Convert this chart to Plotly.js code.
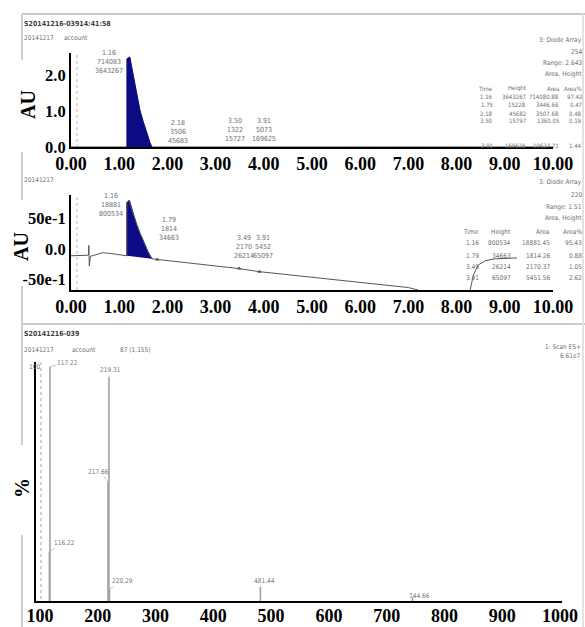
<!DOCTYPE html>
<html>
<head>
<meta charset="utf-8">
<script src="https://cdn.plot.ly/plotly-3.0.1.min.js"></script>
<style>
  html, body { margin: 0; padding: 0; background: #fff; }
  #chart { width: 585px; height: 627px; }
</style>
</head>
<body>
<div id="chart"></div>
<script>
// ---------- Chromatogram 1: 3: Diode Array, 254 nm ----------
const uv254PeakTime = [1.16, 1.16, 1.22, 1.30, 1.36, 1.43, 1.50, 1.58, 1.64, 1.68];
const uv254PeakAU   = [0.00, 2.45, 2.50, 1.90, 1.45, 1.03, 0.70, 0.35, 0.12, 0.00];
const uv254BaseTime = [0.00, 10.00];
const uv254BaseAU   = [0.00, 0.00];
const uv254Labels   = [["1.16", "714083", "3643267"], ["2.18", "3506", "45683"],
                       ["3.50", "1322", "15727"], ["3.91", "5073", "169625"]];
const uv254LabelTime = [1.16, 2.18, 3.50, 3.91];
const uv254Table = [["Time", "Height", "Area", "Area%"],
                    ["1.16", "3643267", "714080.88", "97.42"],
                    ["1.75", "15228", "3446.66", "0.47"],
                    ["2.18", "45682", "3507.68", "0.48"],
                    ["3.50", "15797", "1360.05", "0.19"],
                    ["3.91", "169625", "10627.71", "1.44"]];

// ---------- Chromatogram 2: 3: Diode Array, 220 nm ----------
const uv220PreTime  = [0.00, 0.30, 0.36, 0.37, 0.38, 0.40, 0.50, 0.65, 0.80, 1.00];
const uv220PreVal   = [-1.1, -1.1, -1.0, 0.6, -2.8, -1.2, -1.0, -0.6, -0.7, -0.9];
const uv220PeakTime = [1.16, 1.16, 1.21, 1.28, 1.36, 1.43, 1.52, 1.60, 1.68];
const uv220PeakVal  = [-1.1, 7.6, 8.0, 6.0, 4.0, 2.6, 1.0, -0.5, -1.6];
const uv220PostTime = [1.79, 2.00, 2.50, 3.00, 3.49, 3.91, 4.50, 5.00, 5.50, 6.00, 6.50, 7.00, 7.20, 7.70,
                       8.28, 8.35, 8.45, 8.60, 8.80, 9.25];
const uv220PostVal  = [-1.7, -1.9, -2.25, -2.7, -3.2, -3.7, -4.2, -4.6, -5.1, -5.5, -5.9, -6.3, -6.7, null,
                       -6.7, -4.2, -2.6, -1.9, -1.6, -1.45];
const uv220MarkTime = [1.79, 3.49, 3.91];
const uv220MarkVal  = [-1.7, -3.2, -3.7];
const uv220Labels   = [["1.16", "18881", "800534"], ["1.79", "1814", "34663"],
                       ["3.49", "2170", "26214"], ["3.91", "5452", "65097"]];
const uv220LabelTime = [1.16, 1.79, 3.49, 3.91];
const uv220Table = [["Time", "Height", "Area", "Area%"],
                    ["1.16", "800534", "18881.45", "95.43"],
                    ["1.79", "34663", "1814.26", "0.88"],
                    ["3.49", "26214", "2170.37", "1.05"],
                    ["3.91", "65097", "5451.56", "2.62"]];

// ---------- Mass spectrum: 1: Scan ES+ ----------
const msMz  = [116.22, 117.22, 217.66, 219.31, 220.29, 481.44, 744.66];
const msPct = [21, 100, 51, 95.5, 5, 6, 1.7];

// ---------- axis tick labels ----------
const timeTicks = [0, 1, 2, 3, 4, 5, 6, 7, 8, 9, 10];
const timeTickText = ["0.00", "1.00", "2.00", "3.00", "4.00", "5.00", "6.00", "7.00", "8.00", "9.00", "10.00"];
const au254Ticks = [0, 1, 2];
const au254TickText = ["0.0", "1.0", "2.0"];
const au220Ticks = [-5, 0, 5];
const au220TickText = ["-50e-1", "0.0", "50e-1"];
const mzTicks = [100, 200, 300, 400, 500, 600, 700, 800, 900, 1000];
const mzTickText = mzTicks.map(String);

// ---------- helpers ----------
const W = 585, H = 627;
const px = v => v / W;
const py = v => 1 - v / H;
const SERIF = "Liberation Serif, Times New Roman, serif";
const SMALL = "Liberation Sans Narrow, DejaVu Sans Condensed, Arial Narrow, sans-serif";
const NAVY = "#0b0b85";
const smallFont = (size, color, weight) => ({ family: SMALL, size: size || 6.5, color: color || "#6e6e6e", weight: weight || "normal" });

// ---------- traces ----------
const msX = [], msY = [];
msMz.forEach((m, i) => { msX.push(m, m, null); msY.push(0, msPct[i], null); });

const traces = [
  { x: uv254BaseTime, y: uv254BaseAU, xaxis: "x", yaxis: "y", mode: "lines",
    line: { color: "#444", width: 1 }, hoverinfo: "skip" },
  { x: uv254PeakTime, y: uv254PeakAU, xaxis: "x", yaxis: "y", mode: "lines",
    fill: "toself", fillcolor: NAVY, line: { color: NAVY, width: 1 } },

  { x: uv220PeakTime, y: uv220PeakVal, xaxis: "x2", yaxis: "y2", mode: "lines",
    fill: "toself", fillcolor: NAVY, line: { color: NAVY, width: 1 } },
  { x: uv220PreTime.concat(uv220PeakTime, uv220PostTime),
    y: uv220PreVal.concat(uv220PeakVal, uv220PostVal),
    xaxis: "x2", yaxis: "y2", mode: "lines", line: { color: "#555", width: 1 } },
  { x: uv220MarkTime, y: uv220MarkVal, xaxis: "x2", yaxis: "y2", mode: "markers",
    marker: { symbol: "triangle-up", size: 4, color: "#555" } },

  { x: msX, y: msY, xaxis: "x3", yaxis: "y3", mode: "lines",
    line: { color: "#a2a2a2", width: 1.6 } }
];

// ---------- annotations ----------
const ann = [];
const note = (text, x, y, o) => ann.push(Object.assign({
  xref: "paper", yref: "paper", x: px(x), y: py(y), text: text, showarrow: false,
  xanchor: "left", yanchor: "middle", font: smallFont()
}, o || {}));

// header texts of the instrument windows
note("S20141216-03914:41:58", 22, 24, { font: smallFont(7, "#3c3c3c", "bold") });
note("20141217", 22, 38);
note("account", 62, 38);
note("20141217", 22, 180);
note("S20141216-039", 22, 334, { font: smallFont(7, "#3c3c3c", "bold") });
note("20141217", 22, 350);
note("account", 70, 350);
note("87 (1.155)", 118, 350);
note("1: Scan ES+", 583, 347, { xanchor: "right" });
note("6.61e7", 583, 356, { xanchor: "right" });
note("100", 27, 367);

// detector info blocks on the right
[["3: Diode Array", 40], ["254", 52], ["Range: 2.643", 63], ["Area, Height", 74]]
  .forEach(([t, y]) => note(t, 584, y, { xanchor: "right" }));
[["3: Diode Array", 182], ["220", 195], ["Range: 1.51", 207], ["Area, Height", 218]]
  .forEach(([t, y]) => note(t, 584, y, { xanchor: "right" }));

// peak tables
const tab1Right = [495, 528, 561, 584];
const tab1Rows = [88, 97, 105, 113, 121, 146];
uv254Table.forEach((row, r) => row.forEach((cell, c) =>
  note(cell, tab1Right[c], tab1Rows[r], { xanchor: "right", font: smallFont(6) })));
const tab2Right = [481, 513, 552, 584];
const tab2Rows = [232, 243, 256, 267, 278];
uv220Table.forEach((row, r) => row.forEach((cell, c) =>
  note(cell, tab2Right[c], tab2Rows[r], { xanchor: "right", font: smallFont(6.5) })));

// peak labels on the chromatograms (time / area / height)
const labelBox = (axis, t, y, shift, lines, anchor) => ann.push({
  xref: axis, yref: "paper", x: t, y: py(y), xshift: shift,
  text: lines.join("<br>"), showarrow: false, xanchor: anchor, yanchor: "middle",
  font: smallFont(7)
});
const uv254Shift = [-2, 2, -5, 5];
const uv254LabelY = [62, 132, 130, 130];
uv254Labels.forEach((lines, i) =>
  labelBox("x", uv254LabelTime[i], uv254LabelY[i], uv254Shift[i], lines, i === 0 ? "right" : "center"));
const uv220Shift = [-2, 12, 5, 4];
const uv220LabelY = [205, 229, 247, 247];
uv220Labels.forEach((lines, i) =>
  labelBox("x2", uv220LabelTime[i], uv220LabelY[i], uv220Shift[i], lines, i === 0 ? "right" : "center"));

// m/z labels on the spectrum
const msLabelOffset = [[15, -9], [18, -4], [-9, -10], [2, -7], [13, -8], [4, -6], [7, -1]];
msMz.forEach((m, i) => ann.push({
  xref: "x3", yref: "y3", x: m, y: msPct[i], text: m.toFixed(2),
  showarrow: true, arrowhead: 0, arrowwidth: 0.8, arrowcolor: "#b5b5b5",
  ax: msLabelOffset[i][0], ay: msLabelOffset[i][1], standoff: 0,
  font: smallFont(6.5, "#777")
}));

// bold axis titles
const bigFont = { family: SERIF, size: 20, color: "#000", weight: "bold" };
note("AU", 28, 105, { xanchor: "center", textangle: -90, font: bigFont });
note("AU", 21, 247, { xanchor: "center", textangle: -90, font: bigFont });
note("%", 22, 488, { xanchor: "center", textangle: -90, font: bigFont });

// ---------- frame lines of the instrument windows ----------
const gray = (x0, y0, x1, y1, color, width, dash) => ({
  type: "line", xref: "paper", yref: "paper", x0: px(x0), y0: py(y0), x1: px(x1), y1: py(y1),
  line: { color: color, width: width, dash: dash || "solid" }, layer: "below"
});
const shapes = [
  gray(22, 14, 585, 14, "#c9c9c9", 2),
  gray(22, 324, 585, 324, "#c9c9c9", 2),
  gray(583, 14, 583, 627, "#e2e2e2", 2),
  gray(22, 14, 22, 60, "#cfcfcf", 2),
  gray(22, 152, 22, 200, "#cfcfcf", 2),
  gray(22, 286, 22, 445, "#cfcfcf", 2),
  gray(22, 535, 22, 627, "#cfcfcf", 2),
  gray(77, 55, 77, 147, "#cdcdcd", 1.5, "dot"),
  gray(77, 197, 77, 290, "#cdcdcd", 1.5, "dot"),
  gray(41, 362, 41, 600, "#c4c4c4", 1.5, "dot")
];

// ---------- axes ----------
const tickFont = { family: SERIF, size: 18, color: "#000", weight: "bold" };
const yTickFont = { family: SERIF, size: 16.5, color: "#000", weight: "bold" };
const baseAxis = { showline: true, linecolor: "#000", linewidth: 2, ticks: "", showgrid: false,
                   zeroline: false, fixedrange: true };

const layout = {
  width: W, height: H, margin: { l: 0, r: 0, t: 0, b: 0 },
  paper_bgcolor: "#fff", plot_bgcolor: "rgba(0,0,0,0)", showlegend: false,
  xaxis: Object.assign({}, baseAxis, { domain: [px(71), px(553)], range: [0, 10], anchor: "y",
    tickmode: "array", tickvals: timeTicks, ticktext: timeTickText, tickfont: tickFont, ticklabelstandoff: -1 }),
  yaxis: Object.assign({}, baseAxis, { domain: [py(147), py(53)], range: [0, 2.61], anchor: "x",
    tickmode: "array", tickvals: au254Ticks, ticktext: au254TickText, tickfont: yTickFont }),
  xaxis2: Object.assign({}, baseAxis, { domain: [px(71), px(553)], range: [0, 10], anchor: "y2",
    tickmode: "array", tickvals: timeTicks, ticktext: timeTickText, tickfont: tickFont, ticklabelstandoff: -1 }),
  yaxis2: Object.assign({}, baseAxis, { domain: [py(290), py(195)], range: [-6.7, 8.85], anchor: "x2",
    tickmode: "array", tickvals: au220Ticks, ticktext: au220TickText, tickfont: yTickFont }),
  xaxis3: Object.assign({}, baseAxis, { domain: [px(36), px(562)], range: [93.08, 1003.46], anchor: "y3",
    tickmode: "array", tickvals: mzTicks, ticktext: mzTickText, tickfont: tickFont, ticklabelstandoff: -3 }),
  yaxis3: Object.assign({}, baseAxis, { domain: [py(601), py(362)], range: [0, 102], anchor: "x3",
    showticklabels: false }),
  annotations: ann,
  shapes: shapes
};

Plotly.newPlot("chart", traces, layout, { staticPlot: true, displayModeBar: false });
</script>
</body>
</html>
